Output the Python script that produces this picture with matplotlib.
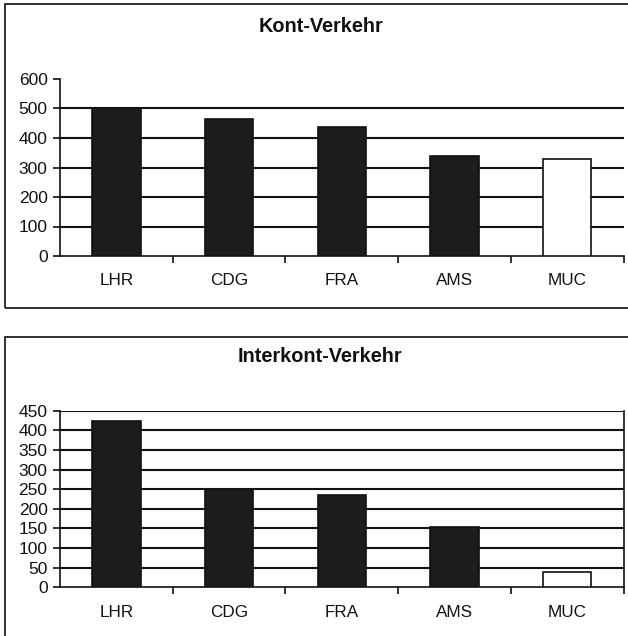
import matplotlib
matplotlib.use("Agg")
import matplotlib.pyplot as plt
from matplotlib.patches import Rectangle
import numpy as np

plt.rcParams['font.family'] = ['Liberation Sans', 'DejaVu Sans']

categories = ["LHR", "CDG", "FRA", "AMS", "MUC"]
kont_values = [500, 463, 438, 339, 328]
interkont_values = [423, 250, 235, 153, 40]
kont_ticks = [0, 100, 200, 300, 400, 500, 600]
interkont_ticks = [0, 50, 100, 150, 200, 250, 300, 350, 400, 450]
titles = ["Kont-Verkehr", "Interkont-Verkehr"]

fig = plt.figure(figsize=(6.28, 6.36), dpi=100)

# panel boxes
fig.patches.append(Rectangle((5/628, 1-308/636), 1.2, 304/636, transform=fig.transFigure,
                             fill=False, edgecolor='#222222', linewidth=1.3))
fig.patches.append(Rectangle((5/628, -0.1), 1.2, 0.1 + 1-337/636, transform=fig.transFigure,
                             fill=False, edgecolor='#222222', linewidth=1.3))

left = 60/628
width = (623.5-60)/628
ax1 = fig.add_axes([left, 1-256/636, width, 177/636])
ax2 = fig.add_axes([left, 1-587.3/636, width, 176.6/636])

colors = ['#1c1c1c', '#1c1c1c', '#1c1c1c', '#1c1c1c', 'white']
x = np.arange(len(categories))

def style(ax, values, ticks, grid_top, right_spine):
    ax.bar(x, values, width=0.43, color=colors, edgecolor='#111111', linewidth=1.2, zorder=3)
    ax.set_xlim(-0.5, len(categories) - 0.5)
    ax.set_ylim(0, ticks[-1])
    ax.set_yticks(ticks)
    ax.set_yticklabels([str(t) for t in ticks], fontsize=12.5, color='#111111')
    ax.set_xticks(x)
    ax.set_xticklabels(categories, fontsize=12.3, color='#111111')
    ax.set_xticks(np.arange(len(categories)) + 0.5, minor=True)
    ax.tick_params(axis='x', which='major', length=0, pad=12.5)
    ax.tick_params(axis='x', which='minor', length=5, width=1.2, direction='out', color='#111111')
    ax.tick_params(axis='y', length=5, width=1.2, direction='out', pad=4, color='#111111')
    gl = ticks[1:] if grid_top else ticks[1:-1]
    for t in gl:
        ax.axhline(t, color='#111111', linewidth=1.5, zorder=1)
    ax.spines['top'].set_visible(False)
    ax.spines['right'].set_visible(right_spine)
    for s in ['left', 'bottom', 'right']:
        ax.spines[s].set_linewidth(1.2)
        ax.spines[s].set_color('#111111')
    ax.set_facecolor('none')

style(ax1, kont_values, kont_ticks, False, False)
style(ax2, interkont_values, interkont_ticks, True, True)

fig.text(321/628, 1-27/636, titles[0], ha='center', va='center', fontsize=14.3, fontweight='bold', color='#111111')
fig.text(320/628, 1-357/636, titles[1], ha='center', va='center', fontsize=14.3, fontweight='bold', color='#111111')

fig.savefig("out.png", dpi=100)
